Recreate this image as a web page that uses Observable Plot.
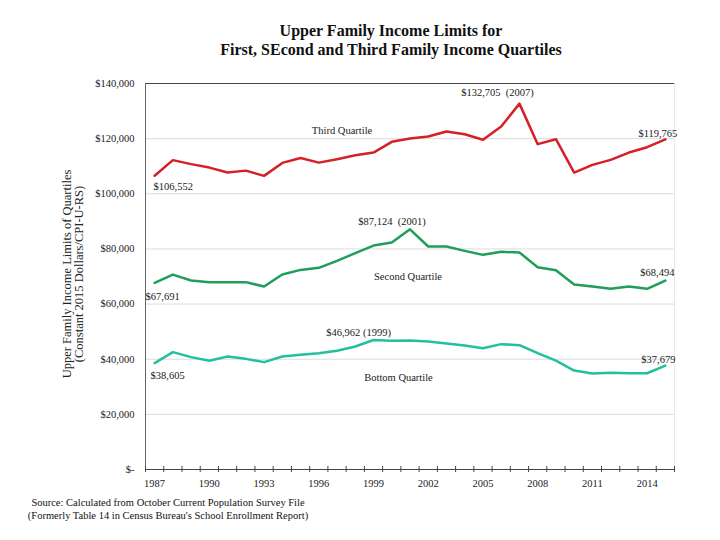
<!DOCTYPE html>
<html><head><meta charset="utf-8">
<script src="https://cdn.jsdelivr.net/npm/d3@7"></script>
<script src="https://cdn.jsdelivr.net/npm/@observablehq/plot@0.6"></script>
<style>
body{margin:0;background:#fff;}
#wrap{position:relative;width:720px;height:540px;overflow:hidden;font-family:"Liberation Serif","Times New Roman",serif;color:#111;}
.title{position:absolute;left:391px;top:22px;transform:translateX(-50%);white-space:nowrap;font-weight:bold;font-size:16px;text-align:center;line-height:18.5px;}
#chart{position:absolute;left:0;top:65px;}
.ytitle{position:absolute;left:72.5px;top:274px;transform:translate(-50%,-50%) rotate(-90deg);white-space:nowrap;font-size:12.5px;text-align:center;line-height:11.5px;color:#222;}
.source{position:absolute;left:168px;top:496px;transform:translateX(-50%);white-space:nowrap;font-size:10.5px;text-align:center;line-height:13px;color:#111;}
</style>
</head>
<body>
<div id="wrap">
  <div class="title">Upper Family Income Limits for<br>First, SEcond and Third Family Income Quartiles</div>
  <div class="ytitle">Upper Family Income Limits of Quartiles<br>(Constant 2015 Dollars/CPI-U-RS)</div>
  <div id="chart"></div>
  <div class="source">Source: Calculated from October Current Population Survey File<br>(Formerly Table 14 in Census Bureau's School Enrollment Report)</div>
</div>
<script>
const years = d3.range(1987, 2016);
const thirdQuartile = [106552,112200,110750,109500,107700,108400,106500,111200,113000,111300,112550,114000,114950,118850,120050,120750,122600,121600,119600,124400,132705,118000,119800,107700,110500,112300,114950,116900,119765];
const secondQuartile = [67691,70700,68550,67950,67950,67950,66350,70700,72400,73150,75680,78470,81230,82320,87124,80870,80870,79300,77850,78940,78700,73390,72300,67080,66350,65520,66350,65520,68494];
const bottomQuartile = [38605,42560,40750,39410,40970,40130,38940,40970,41590,42200,43040,44600,46962,46700,46800,46400,45680,44960,44000,45470,45100,42200,39520,35890,34800,35060,34900,34900,37679];
const seriesNames = ["Third Quartile","Second Quartile","Bottom Quartile"];
const seriesColors = ["#d42027","#1f9e58","#23bf9f"];
const yTicks = [0,20000,40000,60000,80000,100000,120000,140000];
const xLabelYears = [1987,1990,1993,1996,1999,2002,2005,2008,2011,2014];

const seriesValues = [thirdQuartile, secondQuartile, bottomQuartile];
const rows = [];
seriesNames.forEach((name,i)=>years.forEach((yr,j)=>rows.push({series:name, year:yr, value:seriesValues[i][j]})));

const money = v => v === 0 ? "$-" : d3.format("$,")(v);
const NB = "\u00a0";
const point = (s, yr) => ({year: yr, value: seriesValues[s][years.indexOf(yr)]});

// annotations: [series index, year, text, anchor, dx, dy]
const annotations = [
  [0, 1987, money(thirdQuartile[0]), "start", -1, 11],
  [0, 2007, money(point(0,2007).value) + " " + NB + "(2007)", "middle", -22, -11],
  [0, 2015, money(thirdQuartile[28]), "end", 12, -6],
  [0, 1997, "Third Quartile", "middle", 5, -29],
  [1, 2001, money(point(1,2001).value) + " " + NB + "(2001)", "middle", -18, -8],
  [1, 2001, "Second Quartile", "middle", -2, 47],
  [1, 1987, money(secondQuartile[0]), "start", -9, 14],
  [1, 2015, money(secondQuartile[28]), "end", 9, -8],
  [2, 1999, money(point(2,1999).value) + " (1999)", "middle", -15, -7],
  [2, 1999, "Bottom Quartile", "middle", 25, 38],
  [2, 1987, money(bottomQuartile[0]), "start", -4, 13],
  [2, 2015, money(bottomQuartile[28]), "end", 10, -6]
];

const tickYears = d3.range(1986.5, 2016, 1);

const chart = Plot.plot({
  width: 720,
  height: 440,
  marginTop: 18,
  marginBottom: 36,
  marginLeft: 145,
  marginRight: 46,
  style: {fontFamily: "'Liberation Serif','Times New Roman',serif", fontSize: "10.5px", color: "#222", background: "transparent"},
  x: {domain: [1986.5, 2015.5], label: null},
  y: {domain: [0, 140000], label: null},
  color: {domain: seriesNames, range: seriesColors},
  marks: [
    Plot.ruleY(yTicks.filter(v => v > 0 && v < 140000), {y: d => d, stroke: "#dcdcdc", strokeWidth: 1}),
    Plot.ruleX([2015.5], {x: d => d, stroke: "#e8e8e8"}),
    Plot.ruleY([140000], {y: d => d, stroke: "#444", strokeWidth: 1}),
    Plot.ruleX([1986.5], {x: d => d, stroke: "#666", strokeWidth: 1}),
    Plot.ruleY([0], {y: d => d, stroke: "#444", strokeWidth: 1}),
    Plot.ruleX(tickYears, {x: d => d, y1: -1100, y2: 1100, stroke: "#444", strokeWidth: 1}),
    Plot.axisY({ticks: yTicks, tickFormat: money, tickSize: 0, tickPadding: 11, fontSize: 10.5, label: null}),
    Plot.axisX({ticks: xLabelYears, tickFormat: d => String(d), tickSize: 0, tickPadding: 10, fontSize: 10.5, label: null}),
    Plot.line(rows, {x: "year", y: "value", z: "series", stroke: "series", strokeWidth: 2.5, curve: "linear"}),
    ...annotations.map(([s, yr, txt, anchor, dx, dy]) =>
      Plot.text([point(s, yr)], {x: "year", y: "value", text: () => txt, textAnchor: anchor, dx, dy, fill: "#1a1a1a", fontSize: 10.5})
    )
  ]
});
document.getElementById("chart").appendChild(chart);
</script>
</body></html>
